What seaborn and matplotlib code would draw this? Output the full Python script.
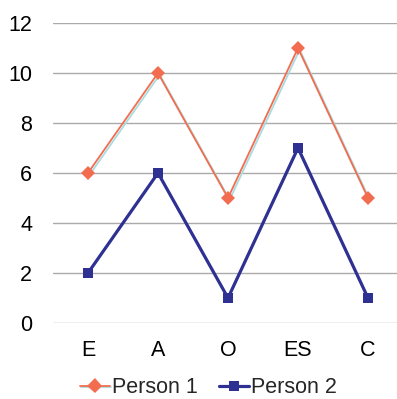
import matplotlib
matplotlib.use("Agg")
import matplotlib.pyplot as plt
import matplotlib.patheffects as pe
import seaborn as sns
import pandas as pd

categories = ["E", "A", "O", "ES", "C"]
person1 = [6, 10, 5, 11, 5]
person2 = [2, 6, 1, 7, 1]
y_ticks = [0, 2, 4, 6, 8, 10, 12]

df = pd.DataFrame({
    "trait": categories * 2,
    "score": person1 + person2,
    "who": ["Person 1"] * len(categories) + ["Person 2"] * len(categories),
})

sns.set_theme(style="white")
plt.rcParams["font.family"] = ["Liberation Sans", "DejaVu Sans"]

fig = plt.figure(figsize=(3.97, 3.99), dpi=100)
ax = fig.add_axes([53 / 397, 76 / 399, 350 / 397, 300 / 399])

c1 = "#F26D50"
c2 = "#2E3192"

sns.lineplot(data=df[df.who == "Person 1"], x="trait", y="score", sort=False,
             color=c1, lw=1.3, marker="D", markersize=7.5, markeredgewidth=0,
             ax=ax, label="Person 1",
             path_effects=[pe.SimpleLineShadow(offset=(1.2, -1.2), shadow_color="#A9DCDF", alpha=1.0),
                           pe.Normal()])
sns.lineplot(data=df[df.who == "Person 2"], x="trait", y="score", sort=False,
             color=c2, lw=2.3, marker="s", markersize=7.5, markeredgewidth=0,
             ax=ax, label="Person 2")

ax.set_xlim(-0.5, 4.5)
ax.set_ylim(0, 12)
ax.set_yticks(y_ticks)
ax.set_xlabel("")
ax.set_ylabel("")
ax.grid(axis="y", color="#AAAAAA", lw=1)
ax.set_axisbelow(True)
for s in ax.spines.values():
    s.set_visible(False)
ax.tick_params(axis="both", length=0, labelsize=15.5, colors="black")
ax.tick_params(axis="y", pad=15)
ax.tick_params(axis="x", pad=12)

handles, labels = ax.get_legend_handles_labels()
if ax.legend_:
    ax.legend_.remove()
fig.legend(handles, labels, loc="center", bbox_to_anchor=(0.525, 0.028), ncol=2,
           frameon=False, fontsize=15.5, handlelength=1.4, handletextpad=0.1,
           columnspacing=1.0, borderpad=0)

fig.savefig("out.png", dpi=100)
